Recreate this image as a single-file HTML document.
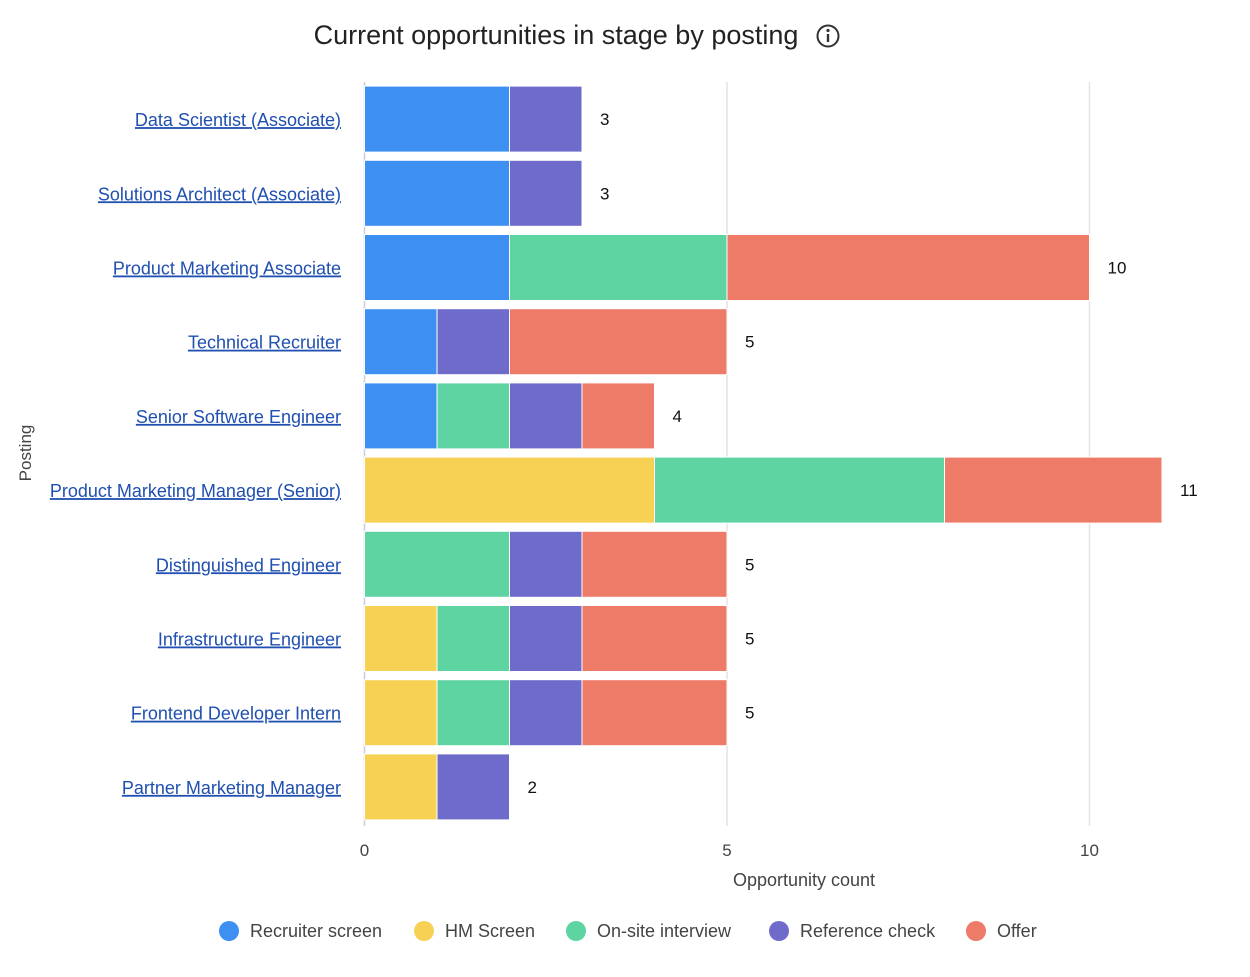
<!DOCTYPE html>
<html><head><meta charset="utf-8"><style>
body{margin:0;background:#fff;width:1250px;height:972px;overflow:hidden;font-family:"Liberation Sans Narrow","Liberation Sans",sans-serif;}
svg text{font-family:"Liberation Sans Narrow","Liberation Sans",sans-serif;}
</style></head><body>
<svg id="chart" width="1250" height="972" xmlns="http://www.w3.org/2000/svg">
<text x="556" y="44" text-anchor="middle" font-size="27" fill="#222">Current opportunities in stage by posting</text>
<g><circle cx="828" cy="36" r="10.5" fill="none" stroke="#333" stroke-width="2"/><circle cx="828" cy="30.5" r="1.6" fill="#333"/><rect x="826.8" y="34" width="2.4" height="8" fill="#333"/></g>
<g id="grid"></g><g id="bars"></g><g id="labels"></g>
<text transform="translate(31,453) rotate(-90)" text-anchor="middle" font-size="17" fill="#444">Posting</text>
<text x="804" y="886" text-anchor="middle" font-size="18" fill="#444">Opportunity count</text>
<g id="legend"></g>
</svg>
<script>
const categories=["Data Scientist (Associate)","Solutions Architect (Associate)","Product Marketing Associate","Technical Recruiter","Senior Software Engineer","Product Marketing Manager (Senior)","Distinguished Engineer","Infrastructure Engineer","Frontend Developer Intern","Partner Marketing Manager"];
const seriesNames=["Recruiter screen","HM Screen","On-site interview","Reference check","Offer"];
const recruiterScreen=[2,2,2,1,1,0,0,0,0,0];
const hmScreen=[0,0,0,0,0,4,0,1,1,1];
const onsiteInterview=[0,0,3,0,1,4,2,1,1,0];
const referenceCheck=[1,1,0,1,1,0,1,1,1,1];
const offer=[0,0,5,3,1,3,2,2,2,0];
const xTicks=[0,5,10];
const colors=["#3d8ff2","#f7d154","#5fd4a3","#6f6bcb","#ee7a68"];
const series=[recruiterScreen,hmScreen,onsiteInterview,referenceCheck,offer];
const NS="http://www.w3.org/2000/svg";
const x0=364.5,unit=72.5,yTop=82,band=74.2,barH=66;
const xs=v=>x0+v*unit;
const yb=i=>yTop+i*band+(band-barH)/2;
function mk(tag,attrs,parent,text){const e=document.createElementNS(NS,tag);for(const k in attrs)e.setAttribute(k,attrs[k]);if(text!=null)e.textContent=text;document.getElementById(parent).appendChild(e);return e;}
xTicks.forEach(t=>{
 const l=mk("line",{x1:xs(t),x2:xs(t),y1:82,y2:826,stroke:t===0?"#ccd":"#e4e4e4","stroke-width":1.5},"grid");
 
 
 const tx=mk("text",{x:xs(t),y:856,"text-anchor":"middle","font-size":17,fill:"#444"},"grid",t);
 
 
});
categories.forEach((c,i)=>{
 let acc=0;
 series.forEach((s,j)=>{
  if(s[i]>0){
   const r=mk("rect",{x:xs(acc),y:yb(i),width:s[i]*unit,height:barH,fill:colors[j],stroke:"#fff","stroke-width":1},"bars");
   
   
   acc+=s[i];
  }
 });
 const tot=mk("text",{x:xs(acc)+18,y:yb(i)+barH/2+6,"font-size":17,fill:"#111"},"bars",acc);
 
 
 const lab=mk("text",{x:341,y:yb(i)+barH/2+7,"text-anchor":"end","font-size":18,fill:"#1f4fb0","text-decoration":"underline"},"labels",c);
 
 
});
const lx=[229,424,576,779,976];
seriesNames.forEach((n,j)=>{
 const g=mk("g",{},"legend");
 
 
 const c=document.createElementNS(NS,"circle");c.setAttribute("cx",lx[j]);c.setAttribute("cy",931);c.setAttribute("r",10);c.setAttribute("fill",colors[j]);g.appendChild(c);
 const t=document.createElementNS(NS,"text");t.setAttribute("x",lx[j]+21);t.setAttribute("y",937);t.setAttribute("font-size",18);t.setAttribute("fill","#444");t.textContent=n;g.appendChild(t);
});
</script>
</body></html>
